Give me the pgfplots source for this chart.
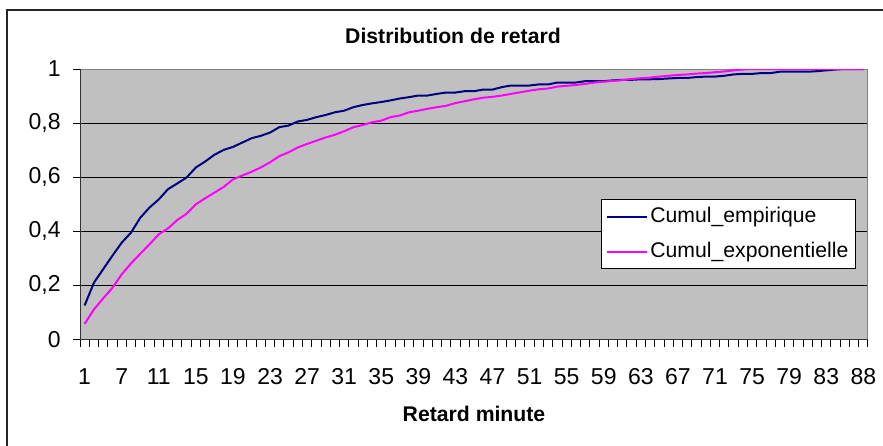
\documentclass[border=0pt]{standalone}
\usepackage{fontspec}
\setmainfont{Liberation Sans}
\usepackage{pgfplots}
\pgfplotsset{compat=1.18}

\definecolor{empnavy}{RGB}{0,0,128}
\definecolor{expmag}{RGB}{255,0,255}
\definecolor{plotbg}{RGB}{192,192,192}
\definecolor{plotborder}{RGB}{128,128,128}

\newcommand\tickfont{\fontsize{11.5}{13}\selectfont}
\newcommand\labfont{\fontsize{10.6}{12}\selectfont}

\begin{document}
\begin{tikzpicture}
\useasboundingbox (0,0) rectangle (441.5pt,-222.5pt);
% chart frame (cut at right and bottom in the reference)
\draw[line width=0.75pt, black!85] (3.5pt,-240pt) -- (3.5pt,-5pt) -- (460pt,-5pt);

\begin{axis}[
    at={(40pt,-169.75pt)}, anchor=south west,
    scale only axis, width=394pt, height=135.25pt,
    xmin=-0.5, xmax=84.5, ymin=0, ymax=1,
    axis background/.style={fill=plotbg},
    axis line style={draw=none},
    tick align=outside, xtick pos=bottom, ytick pos=left,
    major tick length=3.5pt,
    every tick/.style={black, line width=0.5pt},
    ytick={0,0.2,0.4,0.6,0.8,1},
    yticklabels={0,{0,2},{0,4},{0,6},{0,8},1},
    yticklabel style={font=\tickfont, anchor=east, inner sep=0pt, xshift=-6pt},
    xtick={-0.5,0.5,...,84.5},
    xticklabels={},
    extra x ticks={0,4,...,84},
    extra x tick labels={1,7,11,15,19,23,27,31,35,39,43,47,51,55,59,63,67,71,75,79,83,88},
    extra x tick style={major tick length=0pt, xticklabel style={yshift=-3.5pt}},
    xticklabel style={font=\tickfont, anchor=north, inner sep=0pt, yshift=-11pt},
    ymajorgrids, grid style={black, line width=0.5pt},
    legend style={at={(0.661,0.519)}, anchor=north west, draw=black, line width=0.5pt,
        fill=white, inner xsep=2.25pt, inner ysep=3.25pt, font=\labfont,
        row sep=7pt, nodes={inner xsep=1.25pt, inner ysep=0pt, text height=8pt, text depth=2.5pt}},
    legend cell align=left,
    legend image code/.code={\draw[#1] (0pt,0pt) -- (20pt,0pt);},
]
\draw[plotborder, line width=0.6pt] (rel axis cs:0,1) -- (rel axis cs:1,1) -- (rel axis cs:1,0);
\draw[black!80, line width=0.6pt] (rel axis cs:0,1) -- (rel axis cs:0,0) -- (rel axis cs:1,0);

\addplot[empnavy, line width=1pt] coordinates {
(0,0.126) (1,0.21) (2,0.26) (3,0.31) (4,0.358) (5,0.395) (6,0.45) (7,0.488)
(8,0.518) (9,0.556) (10,0.577) (11,0.599) (12,0.636) (13,0.658) (14,0.683)
(15,0.701) (16,0.712) (17,0.728) (18,0.744) (19,0.753) (20,0.765) (21,0.785)
(22,0.791) (23,0.806) (24,0.812) (25,0.822) (26,0.830) (27,0.840) (28,0.846)
(29,0.859) (30,0.867) (31,0.873) (32,0.878) (33,0.884) (34,0.891) (35,0.896)
(36,0.902) (37,0.902) (38,0.908) (39,0.913) (40,0.913) (41,0.918) (42,0.918)
(43,0.924) (44,0.924) (45,0.933) (46,0.939) (47,0.939) (48,0.939) (49,0.943)
(50,0.943) (51,0.950) (52,0.950) (53,0.950) (54,0.955) (55,0.955) (56,0.955)
(57,0.958) (58,0.960) (59,0.960) (60,0.962) (61,0.962) (62,0.963) (63,0.965)
(64,0.967) (65,0.967) (66,0.970) (67,0.972) (68,0.972) (69,0.975) (70,0.980)
(71,0.982) (72,0.982) (73,0.985) (74,0.985) (75,0.990) (76,0.990) (77,0.990)
(78,0.990) (79,0.992) (80,0.995) (81,0.998) (82,1) (83,1) (84,1)
};
\addlegendentry{Cumul\_empirique}

\addplot[expmag, line width=1pt] coordinates {
(0,0.058) (1,0.111) (2,0.152) (3,0.191) (4,0.241) (5,0.281) (6,0.317) (7,0.352)
(8,0.389) (9,0.411) (10,0.442) (11,0.465) (12,0.500) (13,0.522) (14,0.543)
(15,0.564) (16,0.592) (17,0.606) (18,0.620) (19,0.636) (20,0.655) (21,0.678)
(22,0.692) (23,0.710) (24,0.723) (25,0.735) (26,0.747) (27,0.757) (28,0.770)
(29,0.785) (30,0.793) (31,0.803) (32,0.809) (33,0.822) (34,0.828) (35,0.840)
(36,0.846) (37,0.853) (38,0.859) (39,0.864) (40,0.874) (41,0.881) (42,0.888)
(43,0.894) (44,0.897) (45,0.902) (46,0.908) (47,0.914) (48,0.920) (49,0.925)
(50,0.928) (51,0.935) (52,0.938) (53,0.941) (54,0.945) (55,0.950) (56,0.953)
(57,0.956) (58,0.959) (59,0.963) (60,0.966) (61,0.968) (62,0.972) (63,0.975)
(64,0.978) (65,0.980) (66,0.983) (67,0.985) (68,0.988) (69,0.991) (70,0.995)
(71,0.998) (72,1) (73,1) (74,1) (75,1) (76,1) (77,1) (78,1) (79,1) (80,1)
(81,1) (82,1) (83,1) (84,1)
};
\addlegendentry{Cumul\_exponentielle}
\end{axis}

\node[font=\labfont\bfseries] at (226.5pt,-18pt) {Distribution de retard};
\node[font=\labfont\bfseries] at (237pt,-207pt) {Retard minute};
\end{tikzpicture}
\end{document}
